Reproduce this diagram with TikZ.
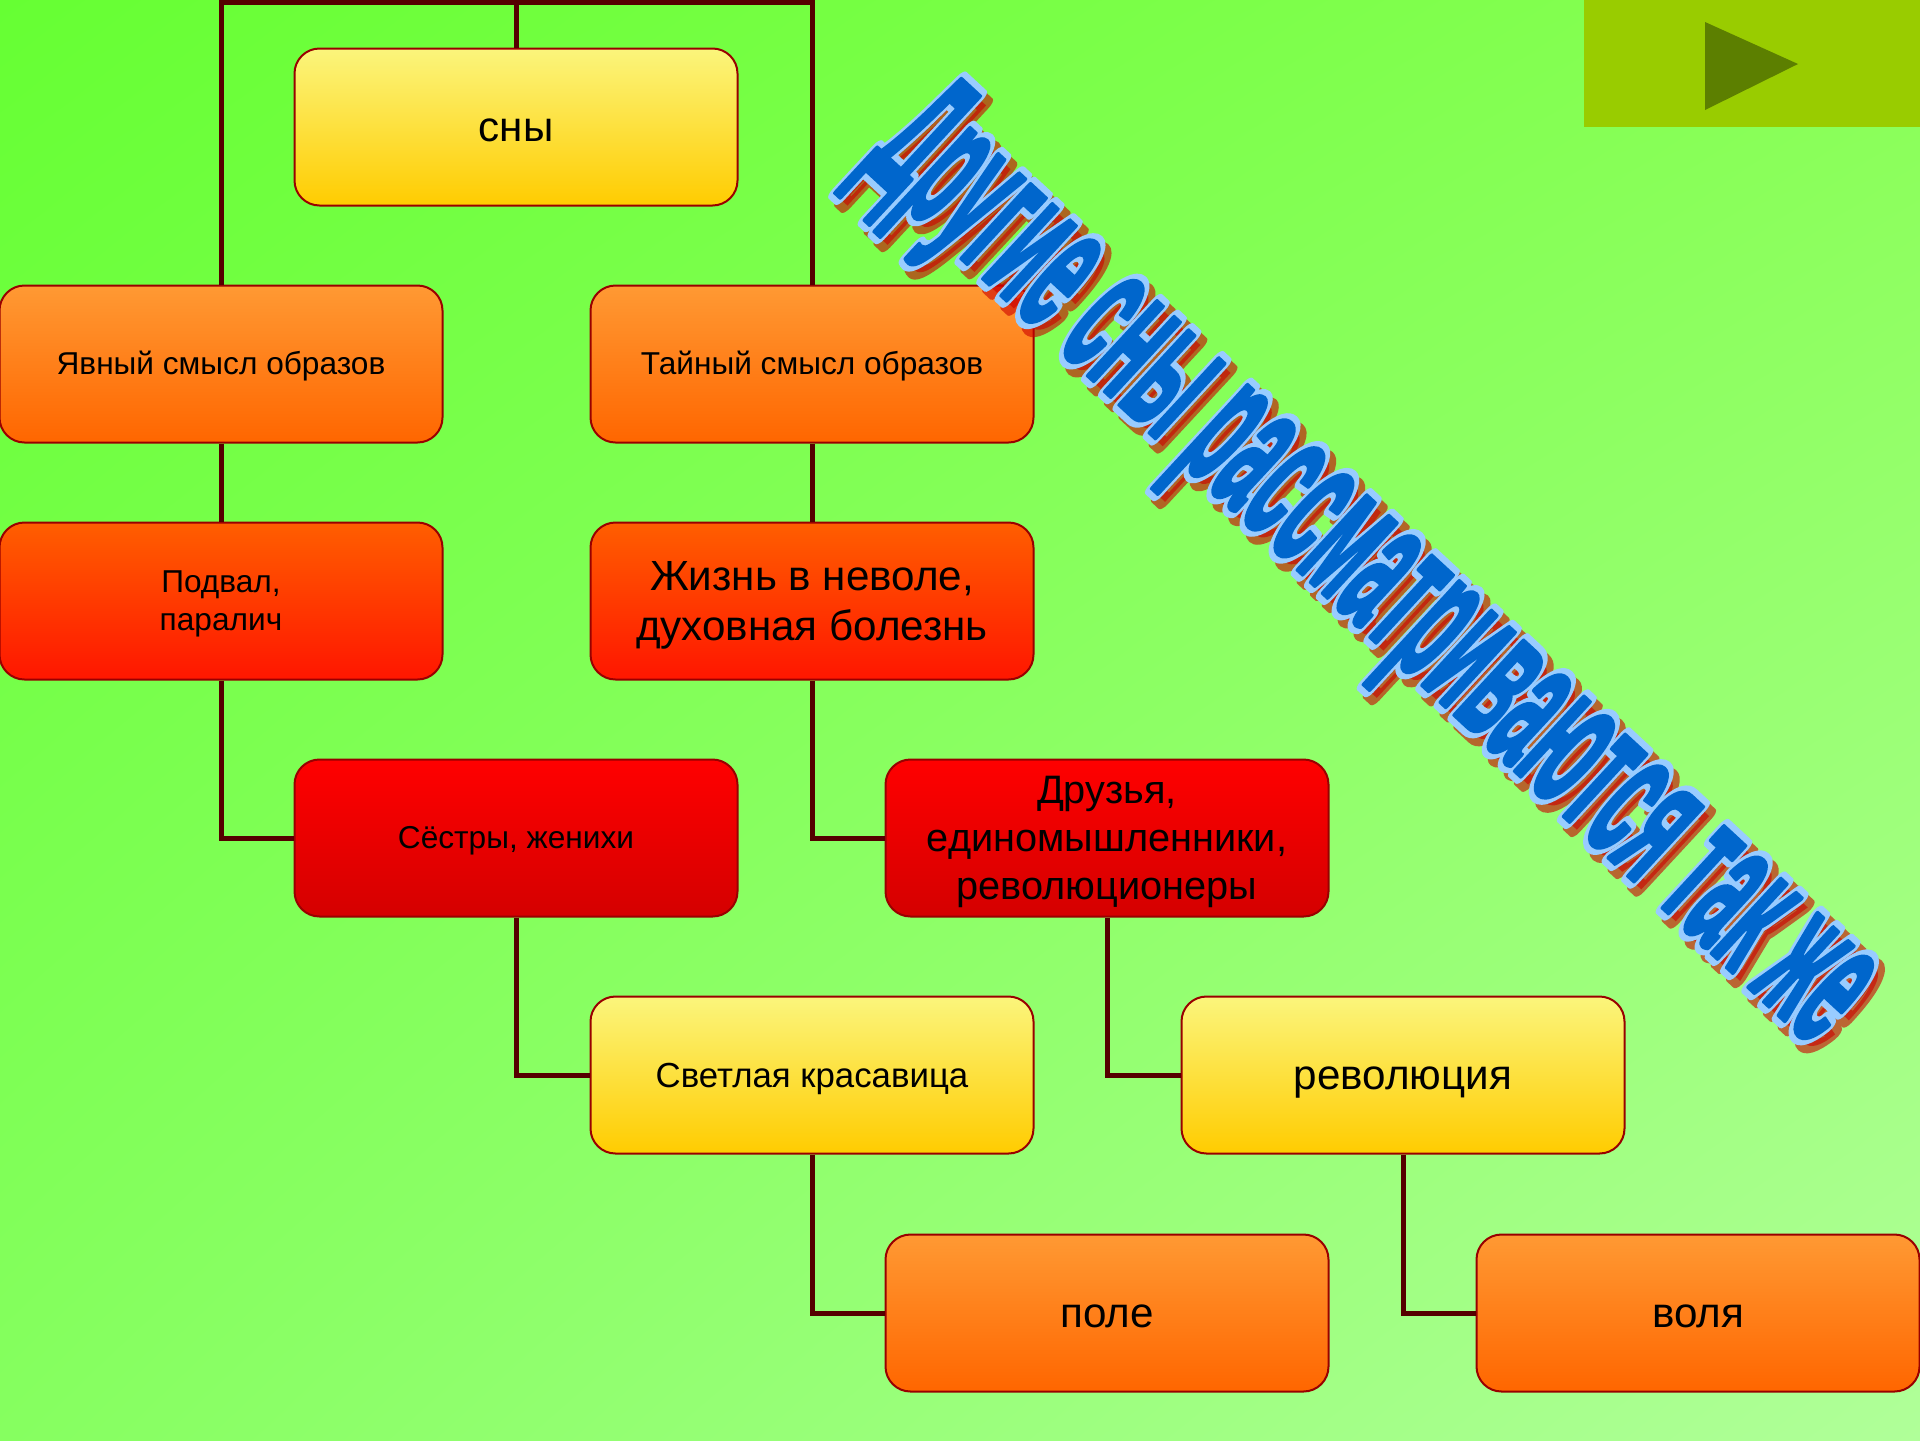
\documentclass[tikz,border=0pt]{standalone}
\usepackage{fontspec}
\setmainfont{Liberation Sans}
\usepackage{graphicx}
\tikzset{>=latex}
\usetikzlibrary{shadings}

\definecolor{bgA}{HTML}{66FF33}
\definecolor{bgB}{HTML}{88FF55}
\definecolor{bgC}{HTML}{86FF60}
\definecolor{bgD}{HTML}{B0FF99}
\definecolor{boxline}{HTML}{990000}
\definecolor{linkc}{HTML}{550000}
\definecolor{yelA}{HTML}{FBF57C}
\definecolor{yelB}{HTML}{FFCC00}
\definecolor{orA}{HTML}{FF9933}
\definecolor{orB}{HTML}{FF6600}
\definecolor{rorA}{HTML}{FF5E00}
\definecolor{rorB}{HTML}{FF1600}
\definecolor{redA}{HTML}{FF0000}
\definecolor{redB}{HTML}{D40000}
\definecolor{btn}{HTML}{99CC00}
\definecolor{btnarrow}{HTML}{5C7F00}
\definecolor{wordblue}{HTML}{0066CC}
\definecolor{wordedge}{HTML}{99CCFF}
\definecolor{wordshadow}{HTML}{CC0000}

\newcommand{\smalltxt}{\fontsize{9}{10.8}\selectfont}
\newcommand{\lighttxt}{\fontsize{9.9}{11.9}\selectfont}
\newcommand{\midtxt}{\fontsize{11.3}{13.7}\selectfont}
\newcommand{\bigtxt}{\fontsize{12}{14.2}\selectfont}
\newcommand{\ppstrut}{\rule[-0.212em]{0pt}{1.117em}}
\newcommand{\wordart}{\resizebox{13.0cm}{1.30cm}{\bfseries Другие сны рассматриваются так же}}
% outline of the slanted title: stroke width, r g b
\newcommand{\wordstroke}[4]{\special{pdf:literal direct 2 Tr 1 j #2 #3 #4 RG #1 w}\wordart\special{pdf:literal direct 0 Tr 0 j}}

\tikzset{
  blk/.style={draw=boxline, line width=0.02cm, rounded corners=0.25cm,
    minimum width=4.43cm, minimum height=1.57cm, align=center, inner sep=2pt, font=\smalltxt,
    execute at begin node=\ppstrut, execute at end node=\ppstrut},
  yelbox/.style={blk, top color=yelA, bottom color=yelB},
  orbox/.style={blk, top color=orA, bottom color=orB},
  rorbox/.style={blk, top color=rorA, bottom color=rorB},
  redbox/.style={blk, top color=redA, bottom color=redB},
  link/.style={draw=linkc, line width=0.05cm}
}

\begin{document}
\begin{tikzpicture}
\useasboundingbox (0,0) rectangle (19.2,-14.4);
\shade[upper left=bgA, upper right=bgB, lower left=bgC, lower right=bgD] (0,0) rectangle (19.2,-14.4);

% button
\fill[btn] (15.84,0) rectangle (19.2,-1.27);
\fill[btnarrow] (17.05,-0.22) -- (17.05,-1.10) -- (17.98,-0.64) -- cycle;

	\node[yelbox, font=\bigtxt] (sny) at (5.16,-1.27) {сны};
	\node[orbox] (yavnyj) at (2.21,-3.64) {Явный смысл образов};
	\node[orbox] (tajnyj) at (8.12,-3.64) {Тайный смысл образов};
	\node[rorbox] (podval) at (2.21,-6.01) {\ppstrut Подвал,\\паралич};
	\node[rorbox, font=\bigtxt] (zhizn) at (8.12,-6.01) {\ppstrut Жизнь в неволе,\\духовная болезнь};
	\node[redbox] (sestry) at (5.16,-8.38) {Сёстры, женихи};
	\node[redbox, font=\midtxt] (druzya) at (11.07,-8.38) {\ppstrut Друзья,\\единомышленники,\\революционеры};
	\node[yelbox, font=\lighttxt] (svetlaya) at (8.12,-10.75) {Светлая красавица};
	\node[yelbox, font=\bigtxt] (revol) at (14.03,-10.75) {революция};
	\node[orbox, font=\bigtxt] (pole) at (11.07,-13.13) {поле};
	\node[orbox, font=\bigtxt] (volya) at (16.98,-13.13) {воля};

\coordinate (verh) at (5.16,-0.025);
\draw[link] (yavnyj.north) |- (verh) -| (tajnyj.north);
\draw[link] (sny.north) -- (verh);
\draw[link] (yavnyj) -- (podval);
\draw[link] (tajnyj) -- (zhizn);
\draw[link] (podval.south) |- (sestry.west);
\draw[link] (zhizn.south) |- (druzya.west);
\draw[link] (sestry.south) |- (svetlaya.west);
\draw[link] (druzya.south) |- (revol.west);
\draw[link] (svetlaya.south) |- (pole.west);
\draw[link] (revol.south) |- (volya.west);

% slanted title
\node[rotate=-42.8, text=wordshadow, opacity=0.6] at (13.74,-5.80) {\wordstroke{1.0}{0.8}{0}{0}};
\node[rotate=-42.8, text=wordedge] at (13.68,-5.72) {\wordstroke{1.0}{0.6}{0.8}{1}};
\node[rotate=-42.8, text=wordblue] (titul) at (13.68,-5.72) {\wordstroke{0.3}{0}{0.4}{0.8}};
\end{tikzpicture}
\end{document}
